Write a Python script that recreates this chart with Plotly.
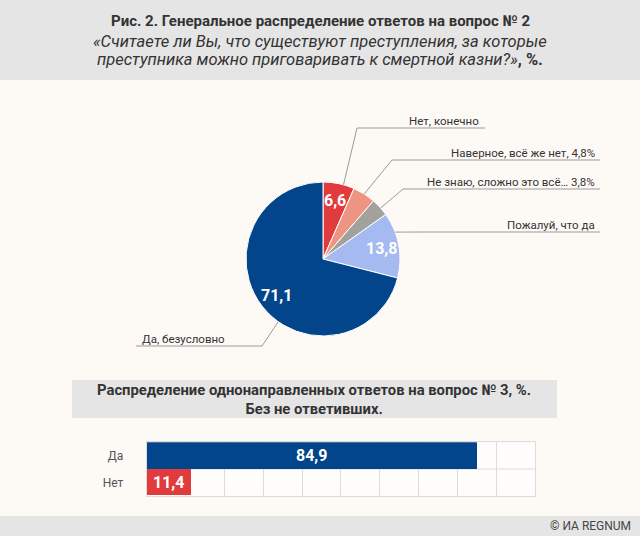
import math
import plotly.graph_objects as go

# ---------------- data ----------------
pie_labels = ["Нет, конечно", "Наверное, всё же нет", "Не знаю, сложно это всё…", "Пожалуй, что да", "Да, безусловно"]
pie_values = [6.6, 4.8, 3.8, 13.8, 71.1]
pie_colors = ["#e13b3d", "#ee9483", "#a3a19c", "#a4baf0", "#03458a"]
pie_inside_shown = [True, False, False, True, True]

bar_categories = ["Нет", "Да"]
bar_values = [11.4, 84.9]
bar_colors = ["#e13b3d", "#03458a"]

title_main = "Рис. 2. Генеральное распределение ответов на вопрос № 2"
title_q1 = "«Считаете ли Вы, что существуют преступления, за которые"
title_q2 = "преступника можно приговаривать к смертной казни?»"
bar_title1 = "Распределение однонаправленных ответов на вопрос № 3, %."
bar_title2 = "Без не ответивших."
credit = "© ИА REGNUM"

# ---------------- layout constants ----------------
W, H = 640, 536
FONT = "Roboto"
TXT = "#333333"
BG = "#fdfaf6"
GRAY = "#e5e5e5"
LEADER = "#9a9a9a"

cx, cy, R = 323, 259, 77  # pie centre & radius in px


def fmt(v):
    return f"{v:.1f}".replace(".", ",")


def px(x):
    return x / W


def py(y):
    return 1 - y / H


fig = go.Figure()

fig.add_trace(go.Pie(
    labels=pie_labels,
    values=pie_values,
    sort=False,
    direction="clockwise",
    rotation=0,
    marker=dict(colors=pie_colors, line=dict(color="#ffffff", width=1)),
    textinfo="none",
    hoverinfo="label+value",
    showlegend=False,
    domain=dict(x=[px(cx - R), px(cx + R)], y=[py(cy + R), py(cy - R)]),
))

fig.add_trace(go.Bar(
    x=bar_values,
    y=bar_categories,
    orientation="h",
    marker=dict(color=bar_colors, line=dict(width=0)),
    text=[fmt(v) for v in bar_values],
    textposition="inside",
    insidetextanchor="middle",
    textfont=dict(family=FONT, size=16, color="#ffffff", weight="bold"),
    constraintext="none",
    showlegend=False,
    xaxis="x", yaxis="y",
))

shapes = []
annotations = []

# background blocks
shapes.append(dict(type="rect", xref="paper", yref="paper", x0=0, x1=1, y0=py(80), y1=1,
                   fillcolor=GRAY, line=dict(width=0), layer="below"))
shapes.append(dict(type="rect", xref="paper", yref="paper", x0=0, x1=1, y0=0, y1=py(516),
                   fillcolor=GRAY, line=dict(width=0), layer="below"))
shapes.append(dict(type="rect", xref="paper", yref="paper", x0=px(72), x1=px(557), y0=py(418), y1=py(380),
                   fillcolor=GRAY, line=dict(width=0), layer="below"))

# titles
annotations.append(dict(text=f"<b>{title_main}</b>", x=px(320), y=py(21), xref="paper", yref="paper",
                        showarrow=False, xanchor="center", yanchor="middle",
                        font=dict(family=FONT, size=15, color=TXT)))
annotations.append(dict(text=f"<i>{title_q1}</i>", x=px(320), y=py(41), xref="paper", yref="paper",
                        showarrow=False, xanchor="center", yanchor="middle",
                        font=dict(family=FONT, size=16.5, color=TXT)))
annotations.append(dict(text=f"<i>{title_q2}</i><b>, %.</b>", x=px(320), y=py(60), xref="paper", yref="paper",
                        showarrow=False, xanchor="center", yanchor="middle",
                        font=dict(family=FONT, size=16.5, color=TXT)))

# pie: compute slice angles from data
total = sum(pie_values)
starts, acc = [], 0.0
for v in pie_values:
    starts.append(acc)
    acc += v


def pt(angle_deg, r):
    a = math.radians(angle_deg)
    return cx + r * math.sin(a), cy - r * math.cos(a)


# inside value labels
for v, s, show in zip(pie_values, starts, pie_inside_shown):
    if not show:
        continue
    mid = (s + v / 2) / total * 360
    x, y = pt(mid, R * 0.77)
    annotations.append(dict(text=f"<b>{fmt(v)}</b>", x=px(x), y=py(y), xref="paper", yref="paper",
                            showarrow=False, xanchor="center", yanchor="middle",
                            font=dict(family=FONT, size=16, color="#ffffff")))

# outside labels with leader lines
outside_text = [
    pie_labels[0],
    f"{pie_labels[1]}, {fmt(pie_values[1])}%",
    f"{pie_labels[2]} {fmt(pie_values[2])}%",
    pie_labels[3],
    pie_labels[4],
]
# (anchor fraction within slice, elbow x, elbow y, line end x, text x, text anchor)
label_layout = [
    (0.65, 357, 128, 485, 481, "right"),
    (0.50, 392, 160, 600, 597, "right"),
    (0.55, 403, 189, 600, 597, "right"),
    (0.30, 423, 232, 600, 597, "right"),
    (0.435, 262, 346, 136, 140, "left"),
]
for txt, v, s, (frac, ex, ey, lx, tx, anc) in zip(outside_text, pie_values, starts, label_layout):
    ang = (s + v * frac) / total * 360
    ax_, ay_ = pt(ang, R)
    shapes.append(dict(type="line", xref="paper", yref="paper", x0=px(ax_), y0=py(ay_), x1=px(ex), y1=py(ey),
                       line=dict(color=LEADER, width=1)))
    shapes.append(dict(type="line", xref="paper", yref="paper", x0=px(ex), y0=py(ey), x1=px(lx), y1=py(ey),
                       line=dict(color=LEADER, width=1)))
    annotations.append(dict(text=txt, x=px(tx), y=py(ey - 7), xref="paper", yref="paper",
                            showarrow=False, xanchor=anc, yanchor="middle",
                            font=dict(family=FONT, size=11.5, color=TXT)))

# bar section title (two lines in one text block)
annotations.append(dict(text=f"<b>{bar_title1}<br>{bar_title2}</b>", x=px(314), y=py(399.5),
                        xref="paper", yref="paper", showarrow=False,
                        xanchor="center", yanchor="middle", align="center",
                        font=dict(family=FONT, size=14.8, color=TXT)))

# middle separator between bar categories
shapes.append(dict(type="line", xref="x domain", yref="y", x0=0, x1=1, y0=0.5, y1=0.5,
                   line=dict(color="#dcdcdc", width=1), layer="below"))

# credit
annotations.append(dict(text=credit, x=px(633), y=py(526), xref="paper", yref="paper",
                        showarrow=False, xanchor="right", yanchor="middle",
                        font=dict(family=FONT, size=12, color="#444444")))

fig.update_layout(
    width=W, height=H,
    margin=dict(l=0, r=0, t=0, b=0),
    paper_bgcolor=BG,
    plot_bgcolor="#fefdfb",
    font=dict(family=FONT, color=TXT),
    bargap=0,
    shapes=shapes,
    annotations=annotations,
    xaxis=dict(domain=[px(146.7), px(535)], range=[0, 100], dtick=10, tick0=0,
               showgrid=True, gridcolor="#dcdcdc", gridwidth=1,
               showticklabels=False, ticks="", zeroline=False,
               showline=True, linecolor="#dcdcdc", linewidth=1, mirror=True, fixedrange=True),
    yaxis=dict(domain=[py(495.7), py(442.3)], categoryorder="array", categoryarray=bar_categories,
               showgrid=False, zeroline=False, ticks="", ticklabelstandoff=20,
               tickfont=dict(family=FONT, size=12, color="#555555"),
               showline=True, linecolor="#dcdcdc", linewidth=1, mirror=True, fixedrange=True),
)

fig.write_html("out.html", config={"displayModeBar": False},
               post_script="document.body.style.margin='0';document.body.style.overflow='hidden';")
